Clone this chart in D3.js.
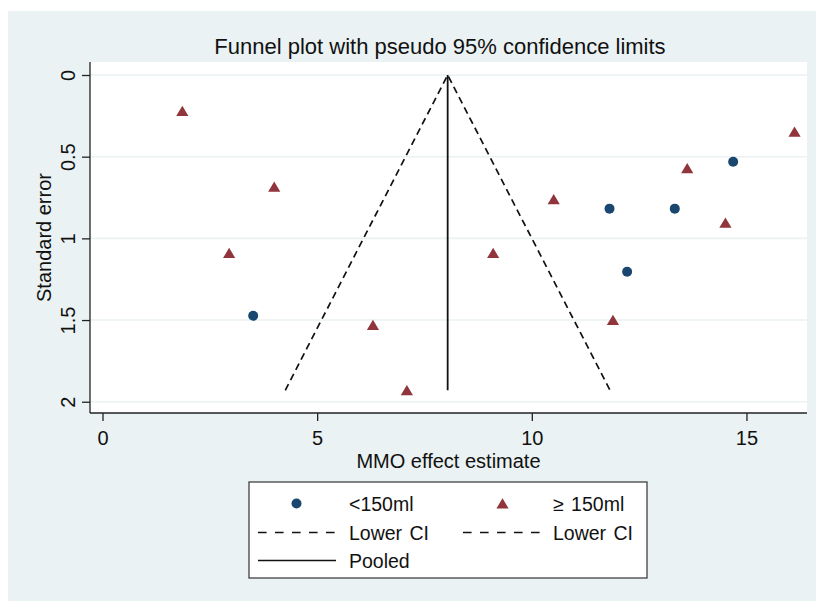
<!DOCTYPE html>
<html>
<head>
<meta charset="utf-8">
<script src="https://cdn.jsdelivr.net/npm/d3@7"></script>
<style>
  html, body { margin: 0; padding: 0; background: #ffffff; }
  svg { display: block; font-family: "Liberation Sans", Arial, sans-serif; }
</style>
</head>
<body>
<svg id="chart" width="816" height="601"></svg>
<script>
// Study estimates, split by volume group
const smallEstimate = [3.51, 11.81, 13.33, 12.22, 14.69];
const smallSE       = [1.474, 0.818, 0.818, 1.204, 0.531];
const largeEstimate = [1.86, 4.00, 2.95, 6.30, 7.09, 9.10, 10.51, 11.89, 13.62, 14.51, 16.12];
const largeSE       = [0.22, 0.684, 1.09, 1.53, 1.93, 1.09, 0.761, 1.50, 0.571, 0.904, 0.347];

// Pooled effect and pseudo 95% limits
const pooledEstimate = 8.04;
const zCrit = 1.96;

const xTicks = [0, 5, 10, 15];
const yTicks = [0, 0.5, 1, 1.5, 2];

const titleText = "Funnel plot with pseudo 95% confidence limits";
const xTitle = "MMO effect estimate";
const yTitle = "Standard error";
const legendLabels = ["<150ml", "\u2265 150ml", "Lower CI", "Lower CI", "Pooled"];

const navy = "#1a476f";
const maroon = "#90353b";
const bg = "#eaf2f3";

const svg = d3.select("#chart");

// Graph background
svg.append("rect").attr("x", 8).attr("y", 11).attr("width", 808).attr("height", 590).attr("fill", bg);

// Plot region
const plotL = 90, plotR = 807, plotT = 62, plotB = 413;
svg.append("rect").attr("x", plotL).attr("y", plotT).attr("width", plotR - plotL).attr("height", plotB - plotT).attr("fill", "#ffffff");

const x = d3.scaleLinear().domain([-0.291, 16.41]).range([plotL, plotR]);
const y = d3.scaleLinear().domain([-0.0796, 2.069]).range([plotT, plotB]);

// Horizontal grid lines
svg.append("g").selectAll("line").data(yTicks).join("line")
  .attr("x1", plotL).attr("x2", plotR)
  .attr("y1", d => y(d)).attr("y2", d => y(d))
  .attr("stroke", bg).attr("stroke-width", 1.6);

// Axes
const xAxis = svg.append("g").attr("transform", `translate(0,${plotB})`)
  .call(d3.axisBottom(x).tickValues(xTicks).tickSize(8).tickPadding(10).tickSizeOuter(0));
xAxis.select(".domain").attr("stroke", "#222").attr("stroke-width", 1.3).attr("d", `M${plotL},0H${plotR}`);
xAxis.selectAll(".tick line").attr("stroke", "#222").attr("stroke-width", 1.3);
xAxis.selectAll(".tick text").attr("font-size", 20).attr("fill", "#111").attr("font-family", "Liberation Sans, Arial, sans-serif");

const yAxis = svg.append("g").attr("transform", `translate(${plotL},0)`)
  .call(d3.axisLeft(y).tickValues(yTicks).tickSize(8).tickSizeOuter(0).tickFormat(d3.format("")));
yAxis.select(".domain").attr("stroke", "#222").attr("stroke-width", 1.3).attr("d", `M0,${plotT}V${plotB}`);
yAxis.selectAll(".tick line").attr("stroke", "#222").attr("stroke-width", 1.3);
yAxis.selectAll(".tick text")
  .attr("font-size", 20).attr("fill", "#111").attr("font-family", "Liberation Sans, Arial, sans-serif")
  .attr("text-anchor", "middle").attr("x", null).attr("dy", null)
  .attr("transform", "translate(-15,0) rotate(-90)");

// Titles
svg.append("text").attr("x", 440).attr("y", 54).attr("text-anchor", "middle")
  .attr("font-size", 22).attr("fill", "#111").text(titleText);
svg.append("text").attr("x", (plotL + plotR) / 2).attr("y", 468).attr("text-anchor", "middle")
  .attr("font-size", 20).attr("fill", "#111").text(xTitle);
svg.append("text").attr("transform", `translate(51,${(plotT + plotB) / 2}) rotate(-90)`)
  .attr("text-anchor", "middle").attr("font-size", 20).attr("fill", "#111").text(yTitle);

// Funnel: pooled line and pseudo confidence limits
const seMax = d3.max(smallSE.concat(largeSE));
const line = d3.line().x(d => x(d[0])).y(d => y(d[1]));
svg.append("path")
  .attr("d", line([[pooledEstimate - zCrit * seMax, seMax], [pooledEstimate, 0], [pooledEstimate + zCrit * seMax, seMax]]))
  .attr("fill", "none").attr("stroke", "#111").attr("stroke-width", 1.7).attr("stroke-dasharray", "7,4.5");
svg.append("path")
  .attr("d", line([[pooledEstimate, 0], [pooledEstimate, seMax]]))
  .attr("fill", "none").attr("stroke", "#111").attr("stroke-width", 1.8);

// Markers
const triangle = "M0,-5.2L6.1,5L-6.1,5Z";
svg.append("g").selectAll("circle").data(d3.zip(smallEstimate, smallSE)).join("circle")
  .attr("cx", d => x(d[0])).attr("cy", d => y(d[1])).attr("r", 5).attr("fill", navy);
svg.append("g").selectAll("path").data(d3.zip(largeEstimate, largeSE)).join("path")
  .attr("transform", d => `translate(${x(d[0])},${y(d[1])})`).attr("d", triangle).attr("fill", maroon);

// Legend
const lg = svg.append("g");
lg.append("rect").attr("x", 249).attr("y", 482).attr("width", 398).attr("height", 96)
  .attr("fill", "#ffffff").attr("stroke", "#333").attr("stroke-width", 1.2);
const rows = [503.5, 532.5, 560.5];
const col1 = { key0: 258, key1: 336, text: 349 };
const col2 = { key0: 463, key1: 542, text: 553 };
lg.append("circle").attr("cx", (col1.key0 + col1.key1) / 2 - 0.5).attr("cy", rows[0]).attr("r", 5).attr("fill", navy);
lg.append("path").attr("transform", `translate(${(col2.key0 + col2.key1) / 2},${rows[0]})`).attr("d", triangle).attr("fill", maroon);
[col1, col2].forEach(c => {
  lg.append("line").attr("x1", c.key0).attr("x2", c.key1).attr("y1", rows[1]).attr("y2", rows[1])
    .attr("stroke", "#111").attr("stroke-width", 1.6).attr("stroke-dasharray", "8.6,8.4");
});
lg.append("line").attr("x1", col1.key0).attr("x2", col1.key1).attr("y1", rows[2]).attr("y2", rows[2])
  .attr("stroke", "#111").attr("stroke-width", 1.6);
const legendPos = [[col1.text, rows[0]], [col2.text, rows[0]], [col1.text, rows[1]], [col2.text, rows[1]], [col1.text, rows[2]]];
lg.selectAll("text.lab").data(legendLabels).join("text").attr("class", "lab")
  .attr("x", (d, i) => legendPos[i][0]).attr("y", (d, i) => legendPos[i][1] + 7)
  .attr("font-size", 19.5).attr("fill", "#111").attr("style", "word-spacing:2px").text(d => d);
</script>
</body>
</html>
